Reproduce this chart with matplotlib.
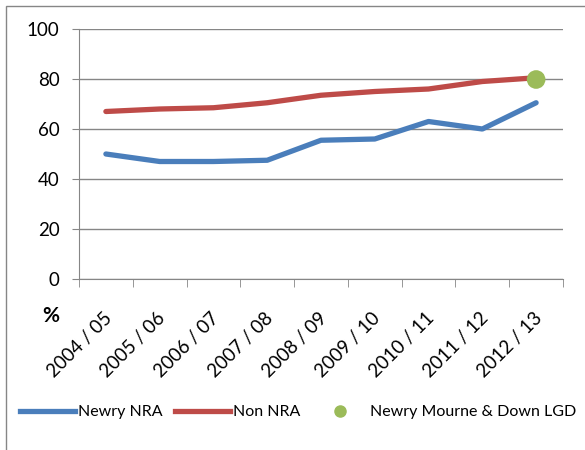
import matplotlib
matplotlib.use("Agg")
import matplotlib.pyplot as plt
from matplotlib.lines import Line2D
from matplotlib.patches import Rectangle
import matplotlib.transforms as mtransforms
import numpy as np

categories = ["2004 / 05", "2005 / 06", "2006 / 07", "2007 / 08", "2008 / 09",
              "2009 / 10", "2010 / 11", "2011 / 12", "2012 / 13"]
newry_nra = [50, 47, 47, 47.5, 55.5, 56, 63, 60, 70.5]
non_nra = [67, 68, 68.5, 70.5, 73.5, 75, 76, 79, 80.5]
lgd_value = 79.8
y_ticks = [0, 20, 40, 60, 80, 100]

plt.rcParams['font.family'] = ['Lato', 'DejaVu Sans']

fig = plt.figure(figsize=(5.85, 4.5), dpi=100)
ax = fig.add_axes([79/585, 1-279/450, (563-79)/585, 250/450])

x = np.arange(len(categories))
ax.plot(x, newry_nra, color="#4A7EBB", lw=3.8, solid_capstyle="round", zorder=3)
ax.plot(x, non_nra, color="#BE4B48", lw=3.8, solid_capstyle="round", zorder=3)
ax.scatter([x[-1]], [lgd_value], s=180, color="#9BBB59", zorder=4, edgecolors="none")

ax.set_xlim(-0.5, len(categories) - 0.5)
ax.set_ylim(0, 100)
ax.set_yticks(y_ticks)
ax.set_yticklabels([str(v) for v in y_ticks], fontsize=13.5)
ax.grid(axis="y", color="#868686", lw=1)
ax.set_axisbelow(True)
for s in ["top", "right"]:
    ax.spines[s].set_visible(False)
for s in ["left", "bottom"]:
    ax.spines[s].set_color("#868686")
ax.tick_params(axis="y", length=5, color="#868686", pad=9)

ax.set_xticks(np.arange(len(categories) + 1) - 0.5, minor=True)
ax.set_xticks(x)
ax.set_xticklabels(categories, rotation=45, ha="right", rotation_mode="anchor", fontsize=13.5)
ax.tick_params(axis="x", which="major", length=0, pad=22)
ax.tick_params(axis="x", which="minor", length=6, color="#868686")
offset = mtransforms.ScaledTranslation(-3/100, 0, fig.dpi_scale_trans)
for lbl in ax.get_xticklabels():
    lbl.set_transform(lbl.get_transform() + offset)

fig.text(51/585, 1-316/450, "%", fontsize=15, fontweight="bold", ha="center", va="center")

# outer frame
fig.patches.append(Rectangle((6/585, -0.05), 1.1, 1-6/450+0.05, transform=fig.transFigure,
                             fill=False, edgecolor="#868686", lw=1))

handles = [Line2D([], [], color="#4A7EBB", lw=3.8),
           Line2D([], [], color="#BE4B48", lw=3.8),
           Line2D([], [], marker="o", ls="none", color="#9BBB59", markersize=8)]
fig.legend(handles, ["Newry NRA", "Non NRA", "Newry Mourne & Down LGD"],
           loc="center left", bbox_to_anchor=(14/585, 1-412/450), ncol=3, frameon=False,
           borderaxespad=0, fontsize=11.5, handlelength=3.4, handletextpad=0.2, columnspacing=0.8)

fig.savefig("out.png", dpi=100)
